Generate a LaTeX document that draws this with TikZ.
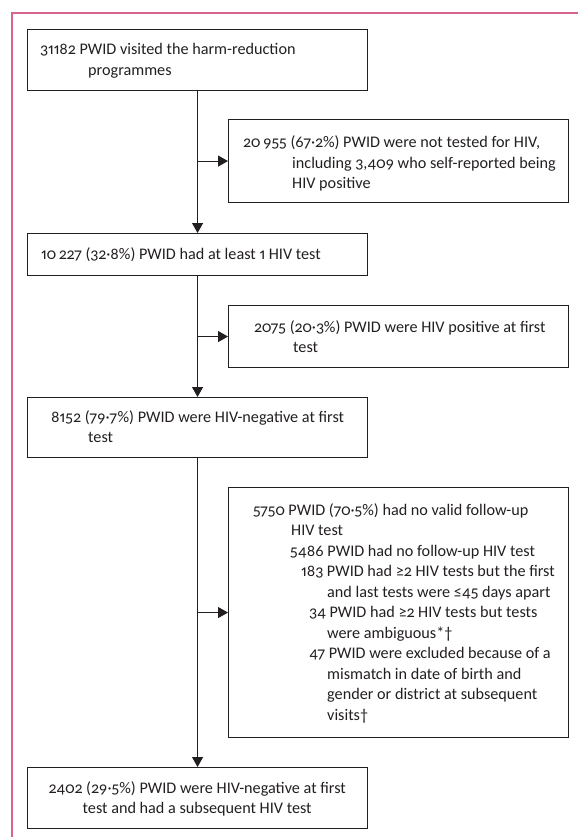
\documentclass[tikz,border=0pt]{standalone}
\usepackage{fontspec}
\setmainfont{Carlito}[Numbers={OldStyle,Proportional}]
\usetikzlibrary{arrows.meta}
\definecolor{framepink}{RGB}{214,100,142}
\definecolor{ink}{RGB}{35,31,32}
\tikzset{
  box/.style={draw=ink, line width=1.1pt, inner sep=0pt, anchor=north west, minimum width=340pt},
  txt/.style={inner sep=0pt, anchor=base west, text=ink, font=\fontsize{16.2}{20.5}\selectfont},
  spine/.style={draw=ink, line width=1pt},
  arr/.style={spine, -{Triangle[length=10pt,width=11pt]}},
}
\newcommand\htxt[3]{\vtop{\hsize=#1\rightskip=0pt plus 1fil\noindent\hangindent=#2\hangafter=1 #3\par}}
\begin{document}
\begin{tikzpicture}[x=1pt,y=-1pt]
\useasboundingbox (0,0) rectangle (578,837);
\draw[framepink, line width=1.2pt] (12,837) -- (12,13) -- (578,13);

\node[box, minimum height=61pt] (b1) at (27,29) {};
\node[txt] (t1) at (40,55) {\htxt{320pt}{48pt}{31182 PWID visited the harm-reduction\\programmes}};

\node[box, minimum height=83pt] (b2) at (228,119) {};
\node[txt] (t2) at (243,148) {\htxt{320pt}{49pt}{20\,955 (67·2\%) PWID were not tested for HIV,\\including 3,409 who self-reported being\\HIV positive}};

\node[box, minimum height=42pt] (b3) at (27,233) {};
\node[txt] (t3) at (41,259) {\htxt{320pt}{0pt}{10\,227 (32·8\%) PWID had at least 1 HIV test}};

\node[box, minimum height=62pt] (b4) at (228,305) {};
\node[txt] (t4) at (254,332) {\htxt{320pt}{39pt}{2075 (20·3\%) PWID were HIV positive at first\\test}};

\node[box, minimum height=60pt] (b5) at (27,397) {};
\node[txt] (t5) at (51,422) {\htxt{320pt}{37pt}{8152 (79·7\%) PWID were HIV-negative at first\\test}};

\node[box, minimum height=250pt] (b6) at (228,487) {};
\node[txt] (t6) at (253,515) {\vtop{\hsize=320pt\rightskip=0pt plus 1fil\noindent
  \parshape 11 0pt 320pt 38pt 282pt 37pt 283pt 48pt 272pt 74pt 246pt 56pt 264pt 74pt 246pt 56pt 264pt 74pt 246pt 74pt 246pt 74pt 246pt
  5750 PWID (70·5\%) had no valid follow-up\\
  HIV test\\
  5486 PWID had no follow-up HIV test\\
  183 PWID had ≥2 HIV tests but the first\\
  and last tests were ≤45 days apart\\
  34 PWID had ≥2 HIV tests but tests\\
  were ambiguous*†\\
  47 PWID were excluded because of a\\
  mismatch in date of birth and\\
  gender or district at subsequent\\
  visits†\par}};

\node[box, minimum height=61pt] (b7) at (27,767) {};
\node[txt] (t7) at (27,793) {\vtop{\hsize=340pt\centering
  2402 (29·5\%) PWID were HIV-negative at first\\test and had a subsequent HIV test\par}};

\coordinate (j1) at (b1.south |- b2.west);
\coordinate (j2) at (b3.south |- b4.west);
\coordinate (j3) at (b5.south |- b6.west);
\draw[arr] (b1.south) -- (b3.north);
\draw[arr] (b3.south) -- (b5.north);
\draw[arr] (b5.south) -- (b7.north);
\draw[arr] (j1) -- (b2.west);
\draw[arr] (j2) -- (b4.west);
\draw[arr] (j3) -- (b6.west);
\end{tikzpicture}
\end{document}
